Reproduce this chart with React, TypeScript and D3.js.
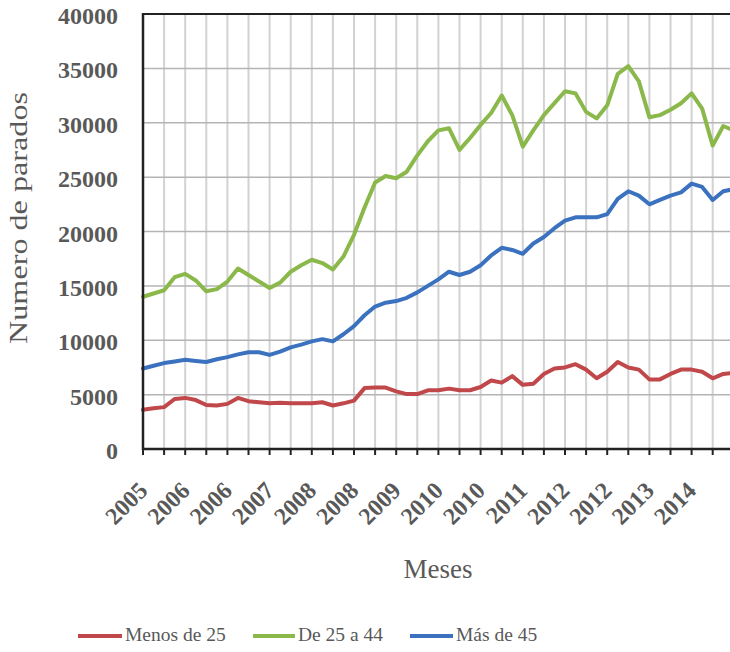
import React from "react";
import * as d3 from "d3";

// X axis labels (one every 4 sample points)
const xLabels = ["2005","2006","2006","2007","2008","2008","2009","2010","2010","2011","2012","2012","2013","2014"];

// Series values (sampled at half-gridline steps)
const menos25 = [3600,3750,3850,4600,4700,4500,4050,4000,4150,4700,4400,4300,4200,4250,4200,4200,4200,4300,4000,4200,4450,5600,5650,5650,5300,5050,5050,5400,5400,5550,5400,5400,5700,6300,6100,6700,5900,6000,6900,7400,7500,7800,7300,6500,7100,8000,7500,7300,6400,6400,6900,7300,7300,7100,6500,6900,7000];
const de25a44 = [14000,14300,14600,15800,16100,15500,14500,14700,15400,16600,16000,15400,14800,15300,16300,16900,17400,17100,16500,17700,19700,22200,24500,25100,24900,25500,27000,28300,29300,29500,27500,28600,29800,30900,32500,30700,27800,29300,30700,31800,32900,32700,31000,30400,31600,34500,35200,33800,30500,30700,31200,31800,32700,31300,27900,29700,29300];
const mas45 = [7400,7650,7900,8050,8200,8100,8000,8250,8450,8700,8900,8900,8650,8950,9350,9600,9900,10100,9900,10550,11300,12300,13100,13450,13600,13900,14400,15000,15600,16300,16000,16300,16900,17800,18500,18300,17950,18900,19500,20300,21000,21300,21300,21300,21600,23000,23700,23300,22500,22900,23300,23600,24400,24100,22900,23700,23900];

const yTicks = [0,5000,10000,15000,20000,25000,30000,35000,40000];

const seriesNames = ["Menos de 25","De 25 a 44","Más de 45"];
const seriesColors = ["#c0474a","#8ab84a","#3b72c0"];

const W = 730, H = 652;
const left = 143, top = 14, bottom = 449;
const step = 10.55;

export default function App() {
  const all = [menos25, de25a44, mas45];
  const n = menos25.length;
  const x = d3.scaleLinear().domain([0, n - 1]).range([left, left + (n - 1) * step]);
  const y = d3.scaleLinear().domain([0, 40000]).range([bottom, top]);
  const line = d3.line<number>().x((_, i) => x(i)).y(d => y(d));

  const gridIdx: number[] = [];
  for (let i = 2; i <= n + 2; i += 2) gridIdx.push(i);
  const tickIdx: number[] = [];
  for (let i = 0; i <= n + 2; i += 2) tickIdx.push(i);

  const font = "'Liberation Serif', 'Times New Roman', serif";
  const txt = "#595959";

  const legendLines = [[78,122],[253,295],[410,453]];

  return (
    <div style={{ position: "absolute", left: 0, top: 0 }}>
      <svg width={W} height={H} style={{ display: "block", background: "#fff" }}>
        {/* vertical gridlines */}
        {gridIdx.map(i => (
          <line key={"vg"+i} x1={x(i)} x2={x(i)} y1={top} y2={bottom} stroke="#d2d2d2" strokeWidth={2} />
        ))}
        {/* horizontal gridlines */}
        {yTicks.filter(t => t > 0 && t < 40000).map(t => (
          <line key={"hg"+t} x1={left} x2={W} y1={y(t)} y2={y(t)} stroke="#b4b4b4" strokeWidth={1.5} />
        ))}
        {/* series */}
        {all.map((s, k) => (
          <path key={"s"+k} d={line(s) || ""} fill="none" stroke={seriesColors[k]} strokeWidth={4} strokeLinejoin="round" strokeLinecap="round" />
        ))}
        {/* frame */}
        <line x1={left} x2={W} y1={top} y2={top} stroke="#222" strokeWidth={2} />
        <line x1={left} x2={left} y1={top - 1} y2={bottom + 1} stroke="#222" strokeWidth={2.5} />
        <line x1={left} x2={W} y1={bottom} y2={bottom} stroke="#222" strokeWidth={2.5} />
        {tickIdx.map(i => (
          <line key={"t"+i} x1={x(i)} x2={x(i)} y1={bottom} y2={bottom + 6} stroke="#222" strokeWidth={2} />
        ))}
        {/* y tick labels */}
        {yTicks.map(t => (
          <text key={"yl"+t} x={118} y={y(t) + 10} textAnchor="end" fontFamily={font} fontSize={24} fontWeight="bold" fill={txt}>{t}</text>
        ))}
        {/* x tick labels */}
        {xLabels.map((lab, j) => (
          <text key={"xl"+j} transform={`translate(${x(j*4) + 6},${492}) rotate(-45)`} textAnchor="end" fontFamily={font} fontSize={24} fontWeight="bold" fill={txt}>{lab}</text>
        ))}
        {/* axis titles */}
        <text transform="translate(27,218) rotate(-90)" textAnchor="middle" fontFamily={font} fontSize={26} fill={txt} textLength={252} lengthAdjust="spacingAndGlyphs">Numero de parados</text>
        <text x={438} y={578} textAnchor="middle" fontFamily={font} fontSize={27} fill={txt}>Meses</text>
        {/* legend */}
        {seriesNames.map((nm, k) => (
          <g key={"lg"+k}>
            <line x1={legendLines[k][0]} x2={legendLines[k][1]} y1={636} y2={636} stroke={seriesColors[k]} strokeWidth={4} />
            <text x={legendLines[k][1] + 3} y={641} fontFamily={font} fontSize={19.5} fill={txt}>{nm}</text>
          </g>
        ))}
      </svg>
    </div>
  );
}
